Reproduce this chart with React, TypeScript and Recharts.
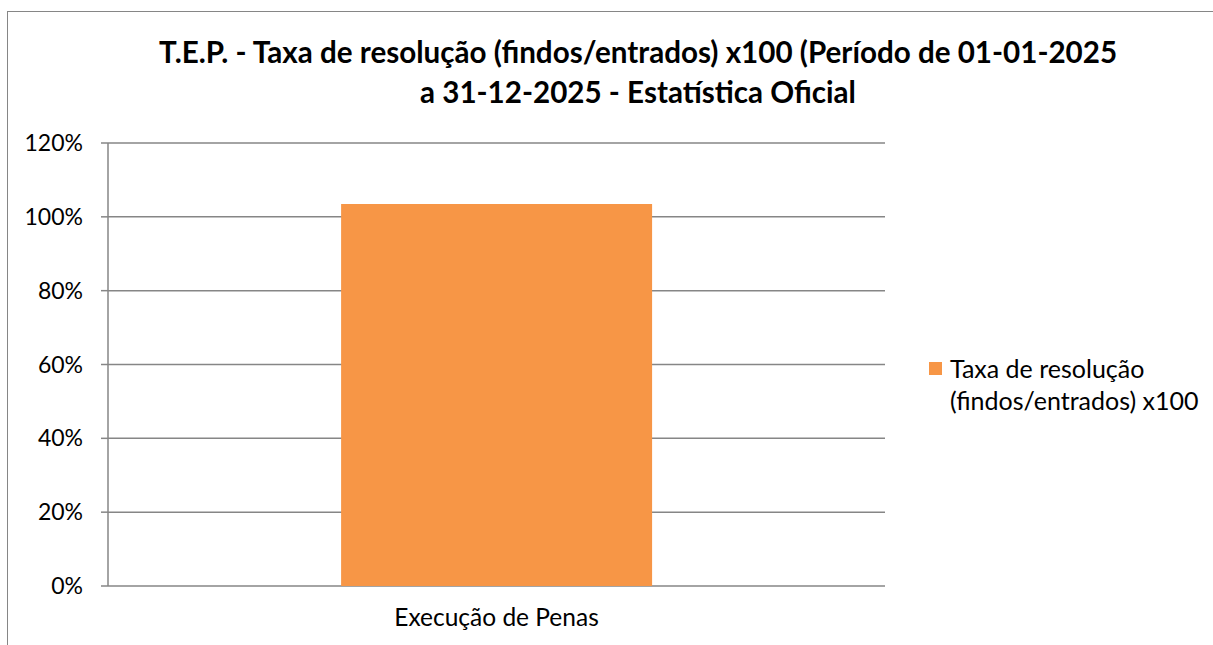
import { Bar, BarChart, CartesianGrid, XAxis, YAxis } from "recharts";

const CATEGORIES = ["Execução de Penas"];
const RATES = [1.035];
const Y_TICKS = [0, 0.2, 0.4, 0.6, 0.8, 1.0, 1.2];
const EDGE_TICKS = [0, 1];
const SERIES_NAME = "Taxa de resolução (findos/entrados) x100";
const TITLE_LINES = [
  "T.E.P. - Taxa de resolução (findos/entrados) x100 (Período de 01-01-2025",
  "a 31-12-2025 - Estatística Oficial",
];

const FONT = "Lato, 'Open Sans', sans-serif";
const GRAY = "#868686";
const ORANGE = "#F79646";

const data = CATEGORIES.map((name, i) => ({ name, rate: RATES[i], edge: i }));

export default function App() {
  return (
    <div
      style={{
        position: "fixed",
        left: 0,
        top: 0,
        width: 1213,
        height: 645,
        background: "#fff",
        fontFamily: FONT,
        overflow: "hidden",
      }}
    >
      {/* outer chart frame */}
      <div
        style={{
          position: "absolute",
          left: 7,
          top: 11,
          width: 1220,
          height: 660,
          border: `1.5px solid ${GRAY}`,
          boxSizing: "border-box",
        }}
      />
      <div
        style={{
          position: "absolute",
          left: 0,
          top: 32,
          width: 1276,
          textAlign: "center",
          fontWeight: 700,
          fontSize: 29.6,
          lineHeight: "40px",
          color: "#000",
        }}
      >
        {TITLE_LINES.map((t) => (
          <div key={t}>{t}</div>
        ))}
      </div>

      <div style={{ position: "absolute", left: 0, top: 0 }}>
        <BarChart
          width={1213}
          height={645}
          data={data}
          margin={{ top: 143, right: 328, bottom: 19, left: 48 }}
          barCategoryGap="30%"
        >
          <CartesianGrid stroke={GRAY} strokeWidth={1.5} vertical={false} />
          {/* edge ticks at the category boundaries, right on the plot bottom */}
          <XAxis
            xAxisId="a-edges"
            type="number"
            dataKey="edge"
            domain={[0, 1]}
            allowDataOverflow
            ticks={EDGE_TICKS}
            interval={0}
            height={0}
            tickFormatter={() => ""}
            tickSize={8}
            axisLine={{ stroke: GRAY, strokeWidth: 1.5 }}
            tickLine={{ stroke: GRAY, strokeWidth: 1.5 }}
          />
          <XAxis
            xAxisId="b-cat"
            dataKey="name"
            height={40}
            axisLine={false}
            tickLine={false}
            tickMargin={17}
            tick={{ fill: "#000", fontSize: 24.5, fontFamily: FONT }}
          />
          <YAxis
            width={60}
            domain={[0, 1.2]}
            ticks={Y_TICKS}
            tickFormatter={(v: number) => `${Math.round(v * 100)}%`}
            tickSize={7}
            tickMargin={18}
            stroke={GRAY}
            strokeWidth={1.5}
            tick={{ fill: "#000", fontSize: 23, fontFamily: FONT }}
          />
          <Bar
            xAxisId="b-cat"
            dataKey="rate"
            name={SERIES_NAME}
            fill={ORANGE}
            isAnimationActive={false}
          />
        </BarChart>
      </div>

      {/* legend */}
      <div
        style={{
          position: "absolute",
          left: 929,
          top: 352,
          display: "flex",
          alignItems: "flex-start",
          fontSize: 25,
          lineHeight: "32px",
          color: "#000",
        }}
      >
        <div style={{ width: 13, height: 13, background: ORANGE, marginTop: 10, marginRight: 8 }} />
        <div>
          Taxa de resolução
          <br />
          (findos/entrados) x100
        </div>
      </div>
    </div>
  );
}
